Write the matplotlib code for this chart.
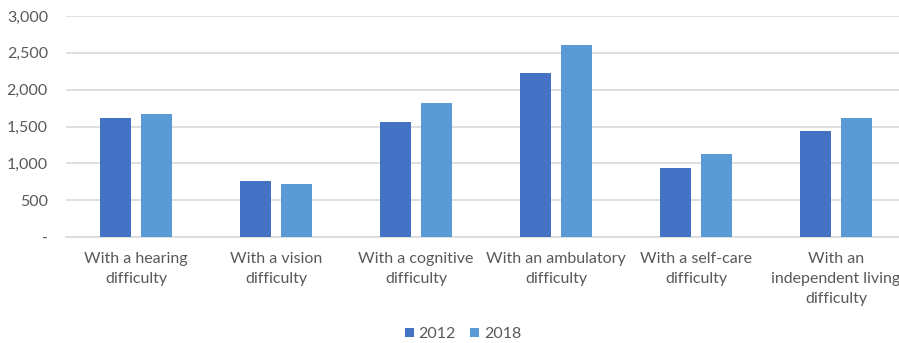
import matplotlib
matplotlib.use("Agg")
import matplotlib.pyplot as plt
import numpy as np
from matplotlib.ticker import FuncFormatter

categories = [
    "With a hearing\ndifficulty",
    "With a vision\ndifficulty",
    "With a cognitive\ndifficulty",
    "With an ambulatory\ndifficulty",
    "With a self-care\ndifficulty",
    "With an\nindependent living\ndifficulty",
]
series_names = ["2012", "2018"]
values_2012 = [1610, 760, 1560, 2225, 935, 1440]
values_2018 = [1670, 715, 1825, 2610, 1125, 1615]
y_ticks = [0, 500, 1000, 1500, 2000, 2500, 3000]

plt.rcParams["font.family"] = ["Lato", "DejaVu Sans"]

text_color = "#595959"
grid_color = "#D9D9D9"
colors = ["#4472C4", "#5B9BD5"]

fig = plt.figure(figsize=(8.99, 3.43), dpi=100)
ax = fig.add_axes([66 / 899, 106 / 343, 840 / 899, 221 / 343])

x = np.arange(len(categories))
width = 0.22
offset = 0.145
ax.bar(x - offset, values_2012, width, color=colors[0], label=series_names[0], zorder=3)
ax.bar(x + offset, values_2018, width, color=colors[1], label=series_names[1], zorder=3)

ax.set_xlim(-0.5, len(categories) - 0.5)
ax.set_ylim(0, 3000)
ax.set_yticks(y_ticks)
ax.yaxis.set_major_formatter(FuncFormatter(lambda v, p: "-" if v == 0 else f"{int(v):,}"))
ax.yaxis.grid(True, color=grid_color, linewidth=1.2, zorder=0)
ax.set_axisbelow(True)

ax.set_xticks(x)
ax.set_xticklabels(categories, linespacing=1.55)
ax.tick_params(axis="x", length=0, pad=10.5, labelsize=11.5, colors=text_color)
ax.tick_params(axis="y", length=0, pad=13, labelsize=11.5, colors=text_color)

for side in ["top", "right", "left"]:
    ax.spines[side].set_visible(False)
ax.spines["bottom"].set_color(grid_color)
ax.spines["bottom"].set_linewidth(1.2)

leg = fig.legend(loc="center", bbox_to_anchor=(463 / 899, 1 - 334 / 343), ncol=2,
                 frameon=False, fontsize=11.5, handlelength=0.55, handleheight=0.55,
                 handletextpad=0.3, columnspacing=0.9)
for t in leg.get_texts():
    t.set_color(text_color)

fig.savefig("out.png", dpi=100)
